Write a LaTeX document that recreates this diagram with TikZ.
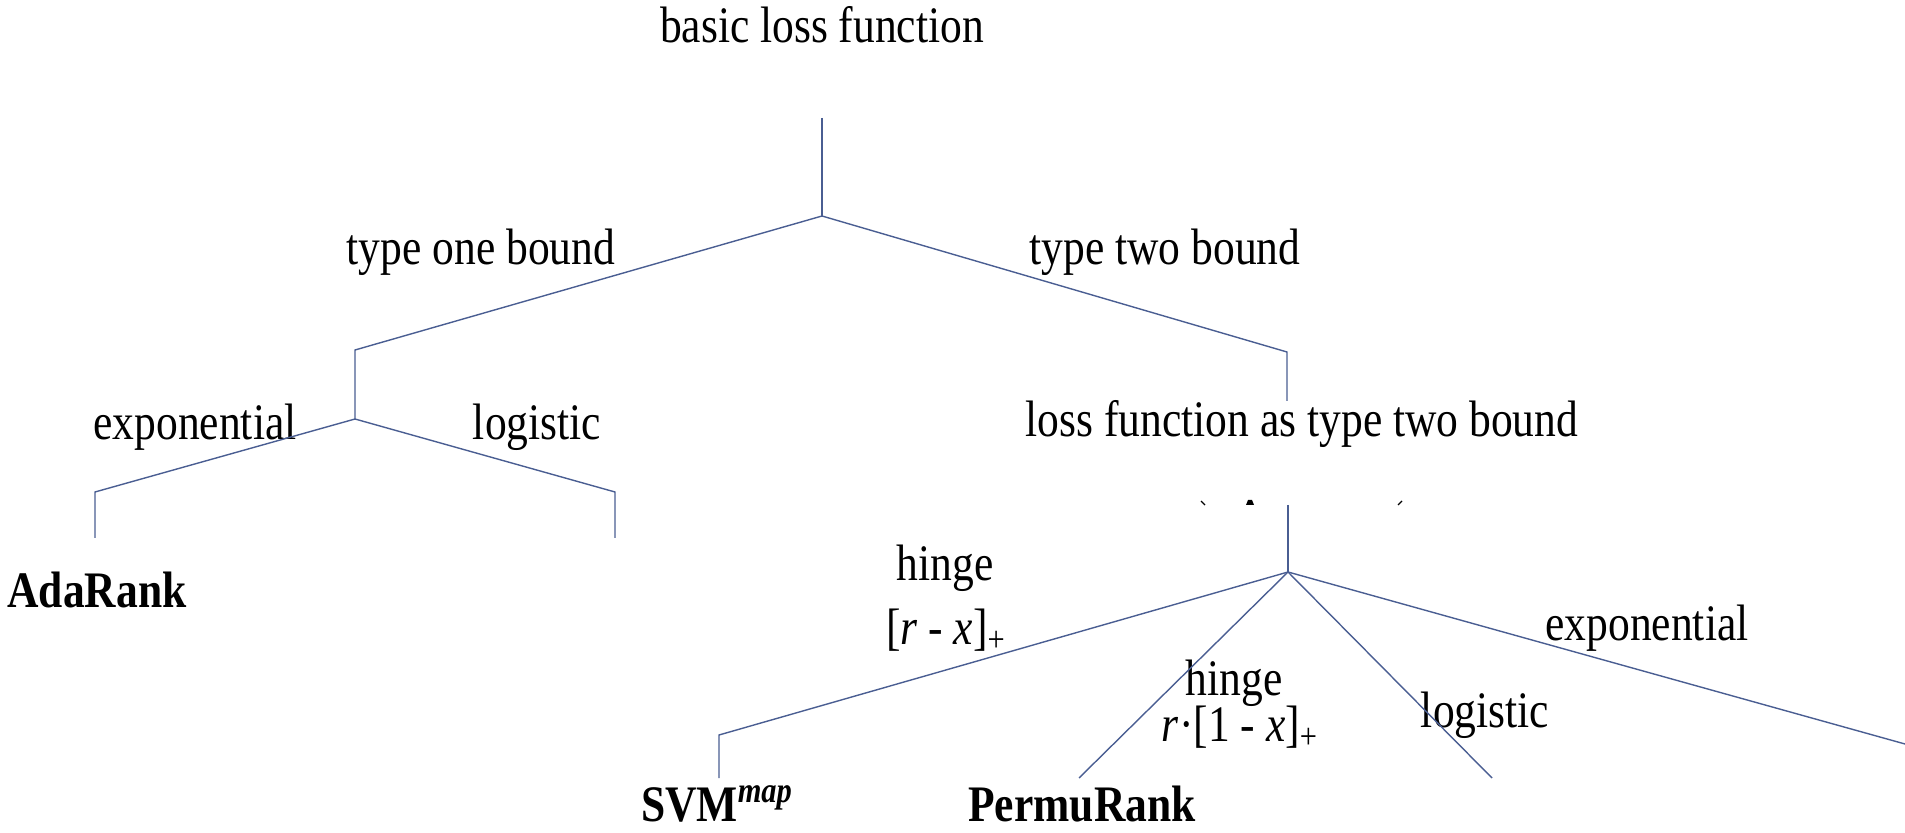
\documentclass[tikz,border=0pt]{standalone}
\usepackage{fontspec}
\setmainfont{Liberation Serif}[FakeStretch=0.85]
\definecolor{edgeblue}{RGB}{74,94,146}
\begin{document}
\begin{tikzpicture}[x=0.5pt,y=-0.5pt,
  branch/.style={draw=edgeblue, line width=0.7pt},
  lbl/.style={anchor=base, inner sep=0pt, font=\fontsize{25.6}{30}\selectfont},
  lblb/.style={lbl, font=\fontsize{25.6}{30}\selectfont\bfseries},
  speck/.style={draw=black, line width=0.6pt}]
\useasboundingbox (0,0) rectangle (1905,833);

% labels
\node[lbl] (root) at (822,43) {basic loss function};
\node[lbl] (t1) at (481,265) {type one bound};
\node[lbl] (t2) at (1165,265) {type two bound};
\node[lbl] (e1) at (195,440) {exponential};
\node[lbl] (g1) at (537,440) {logistic};
\node[lblb] (ada) at (97,607) {AdaRank};
\node[lbl] (lf) at (1302,437) {loss function as type two bound};
\node[lbl] (h1) at (945,581) {hinge};
\node[lbl] (h1f) at (946,644) {[\textit{r} - \textit{x}]\textsubscript{+}};
\node[lbl] (h2) at (1234,695) {hinge};
\node[lbl] (h2f) at (1240,741) {\textit{r}·[1 - \textit{x}]\textsubscript{+}};
\node[lbl] (g2) at (1485,727) {logistic};
\node[lbl] (e2) at (1647,640) {exponential};
\node[lblb] (svm) at (717,821) {SVM\textsuperscript{\textit{map}}};
\node[lblb] (perm) at (1082,821) {PermuRank};

% junctions and branch ends
\coordinate (r0) at (822,118);
\coordinate (j0) at (822,216);
\coordinate (a0) at (355,350);
\coordinate (j1) at (355,419);
\coordinate (b1) at (95,492);
\coordinate (b1e) at (95,538);
\coordinate (b2) at (615,492);
\coordinate (b2e) at (615,538);
\coordinate (c0) at (1287,352);
\coordinate (c0e) at (1287,401);
\coordinate (d0) at (1288,505);
\coordinate (j2) at (1288,572);
\coordinate (s0) at (719,735);
\coordinate (s0e) at (719,778);
\coordinate (p0) at (1079,778);
\coordinate (l0) at (1492,778);
\coordinate (x0) at (1905,744);

% tree branches
\draw[branch] (r0) -- (j0);
\draw[branch] (j0) -- (a0) -- (j1);
\draw[branch] (j1) -- (b1) -- (b1e);
\draw[branch] (j1) -- (b2) -- (b2e);
\draw[branch] (j0) -- (c0) -- (c0e);
\draw[branch] (d0) -- (j2);
\draw[branch] (j2) -- (s0) -- (s0e);
\draw[branch] (j2) -- (p0);
\draw[branch] (j2) -- (l0);
\draw[branch] (j2) -- (x0);

% small clipped marks above the lower junction
\coordinate (k1a) at (1201,501);
\coordinate (k1b) at (1205,505);
\coordinate (k3a) at (1402,501);
\coordinate (k3b) at (1398,505);
\draw[speck] (k1a) -- (k1b);
\draw[speck] (k3a) -- (k3b);
\fill[black] (1246,505) -- (1248,500) -- (1252,500) -- (1254,505) -- cycle;
\end{tikzpicture}
\end{document}
